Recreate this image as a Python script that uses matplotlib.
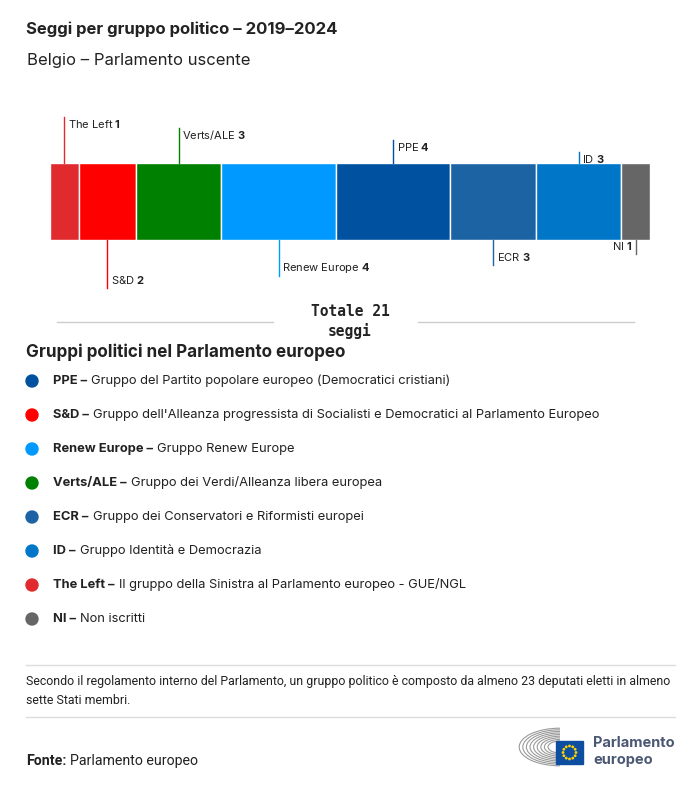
import numpy as np
import matplotlib.pyplot as plt
from matplotlib.patches import Arc, Rectangle, Circle

plt.rcParams['font.family'] = ['Inter', 'DejaVu Sans']
plt.rcParams['mathtext.fontset'] = 'custom'
plt.rcParams['mathtext.rm'] = 'Inter'
plt.rcParams['mathtext.bf'] = 'Inter:bold'

# Seats per group, in bar order
groups = ['The Left', 'S&D', 'Verts/ALE', 'Renew Europe', 'PPE', 'ECR', 'ID', 'NI']
seats = [1, 2, 3, 4, 4, 3, 3, 1]
colors = ['#e12a2d', '#ff0000', '#008000', '#0099ff', '#00519f', '#1c63a4', '#0076c8', '#666666']
# label placement: above (+) or below (-) the bar, and leader length in px
label_side = [1, -1, 1, -1, 1, -1, 1, -1]
leader_px = [46, 48, 35, 36, 23, 25, 11, 14]

legend_names = ['PPE', 'S&D', 'Renew Europe', 'Verts/ALE', 'ECR', 'ID', 'The Left', 'NI']
legend_desc = [
    'Gruppo del Partito popolare europeo (Democratici cristiani)',
    "Gruppo dell'Alleanza progressista di Socialisti e Democratici al Parlamento Europeo",
    'Gruppo Renew Europe',
    'Gruppo dei Verdi/Alleanza libera europea',
    'Gruppo dei Conservatori e Riformisti europei',
    'Gruppo Identità e Democrazia',
    'Il gruppo della Sinistra al Parlamento europeo - GUE/NGL',
    'Non iscritti',
]
legend_colors = ['#00519f', '#ff0000', '#0099ff', '#008000', '#1c63a4', '#0076c8', '#e12a2d', '#666666']

W, H = 700, 786
fig = plt.figure(figsize=(W / 100, H / 100), dpi=100)
ax = fig.add_axes([0, 0, 1, 1])
ax.set_xlim(0, W)
ax.set_ylim(H, 0)
ax.axis('off')

txt = '#222222'

# titles
ax.text(26, 29, 'Seggi per gruppo politico – 2019–2024', fontsize=12, fontweight='bold',
        color=txt, va='center')
ax.text(27, 60, 'Belgio – Parlamento uscente', fontsize=12, color=txt, va='center')

# stacked bar
bar_top, bar_bot = 163, 240
bx = fig.add_axes([50 / W, 1 - bar_bot / H, 600 / W, (bar_bot - bar_top) / H])
total = sum(seats)
bx.set_xlim(0, total)
bx.set_ylim(0, 1)
bx.axis('off')
lefts = np.concatenate([[0], np.cumsum(seats)[:-1]])
bx.barh(0.5, seats, left=lefts, height=1, color=colors, edgecolor='white', linewidth=1)

px = 1.0 / (bar_bot - bar_top)  # axes units per pixel in y
fs_lab = 8
for g, s, l, c, side, lp in zip(groups, seats, lefts, colors, label_side, leader_px):
    xm = l + s / 2
    if side > 0:
        y0, y1 = 1, 1 + lp * px
        ty = y1 - 7 * px
    else:
        y0, y1 = 0, -lp * px
        ty = y1 + 8 * px
    bx.plot([xm, xm], [y0, y1], color=c, lw=1, clip_on=False)
    label = g + r' $\mathbf{' + str(s) + '}$'
    if g == 'NI':
        bx.text(xm - 0.1, ty, label, fontsize=fs_lab, color=txt,
                ha='right', va='center', clip_on=False)
    else:
        bx.text(xm + 0.13, ty, label, fontsize=fs_lab, color=txt,
                ha='left', va='center', clip_on=False)

# total
ax.plot([57, 273], [322, 322], color='#cccccc', lw=1)
ax.plot([418, 634], [322, 322], color='#cccccc', lw=1)
ax.text(350, 312, f'Totale {total}', fontsize=10.5, fontweight='bold', family='DejaVu Sans Mono',
        color=txt, ha='center', va='center')
ax.text(350, 331, 'seggi', fontsize=10.5, fontweight='bold', family='DejaVu Sans Mono',
        color=txt, ha='center', va='center')

# legend
ax.text(26, 352, 'Gruppi politici nel Parlamento europeo', fontsize=12.3, fontweight='bold',
        color=txt, va='center')
for i, (n, d, c) in enumerate(zip(legend_names, legend_desc, legend_colors)):
    y = 381 + 34 * i
    ax.add_patch(Circle((32, y), 6, color=c))
    t = ax.text(53, y, n + ' –', fontsize=9.3, fontweight='bold', color=txt, va='center')
    ax.annotate(d, xy=(1, 0), xycoords=t, xytext=(3, 0), textcoords='offset points',
                ha='left', va='bottom', fontsize=9.3, color=txt)

# footnote
ax.plot([26, 675], [665, 665], color='#dddddd', lw=1)
ax.plot([26, 675], [717, 717], color='#dddddd', lw=1)
ax.text(26, 682, 'Secondo il regolamento interno del Parlamento, un gruppo politico è composto '
        'da almeno 23 deputati eletti in almeno', fontsize=8.9, family='Roboto',
        color=txt, va='center')
ax.text(26, 700, 'sette Stati membri.', fontsize=8.9, family='Roboto', color=txt, va='center')

t = ax.text(26, 761, 'Fonte:', fontsize=10.2, fontweight='bold', family='Roboto', color=txt,
            va='center')
ax.annotate('Parlamento europeo', xy=(1, 0), xycoords=t, xytext=(2.5, 0),
            textcoords='offset points', ha='left', va='bottom',
            fontsize=10.2, family='Roboto', color=txt)

# logo
for r in range(0, 9):
    ax.add_patch(Arc((560, 747), 2 * (12 + 3.6 * r), 2 * (6 + 1.6 * r), theta1=90, theta2=270,
                     color='#9a9a9a', lw=0.8))
ax.add_patch(Rectangle((556, 741), 27, 23, color='#0d4ea0'))
for a in np.linspace(0, 2 * np.pi, 12, endpoint=False):
    ax.add_patch(Circle((569.5 + 6.5 * np.cos(a), 752.5 + 6.5 * np.sin(a)), 0.7, color='#ffd200'))
ax.text(593, 743, 'Parlamento', fontsize=10.5, fontweight='bold', color='#4a5873', va='center')
ax.text(593, 760, 'europeo', fontsize=10.5, fontweight='bold', color='#4a5873', va='center')

fig.savefig('out.png', dpi=100)
